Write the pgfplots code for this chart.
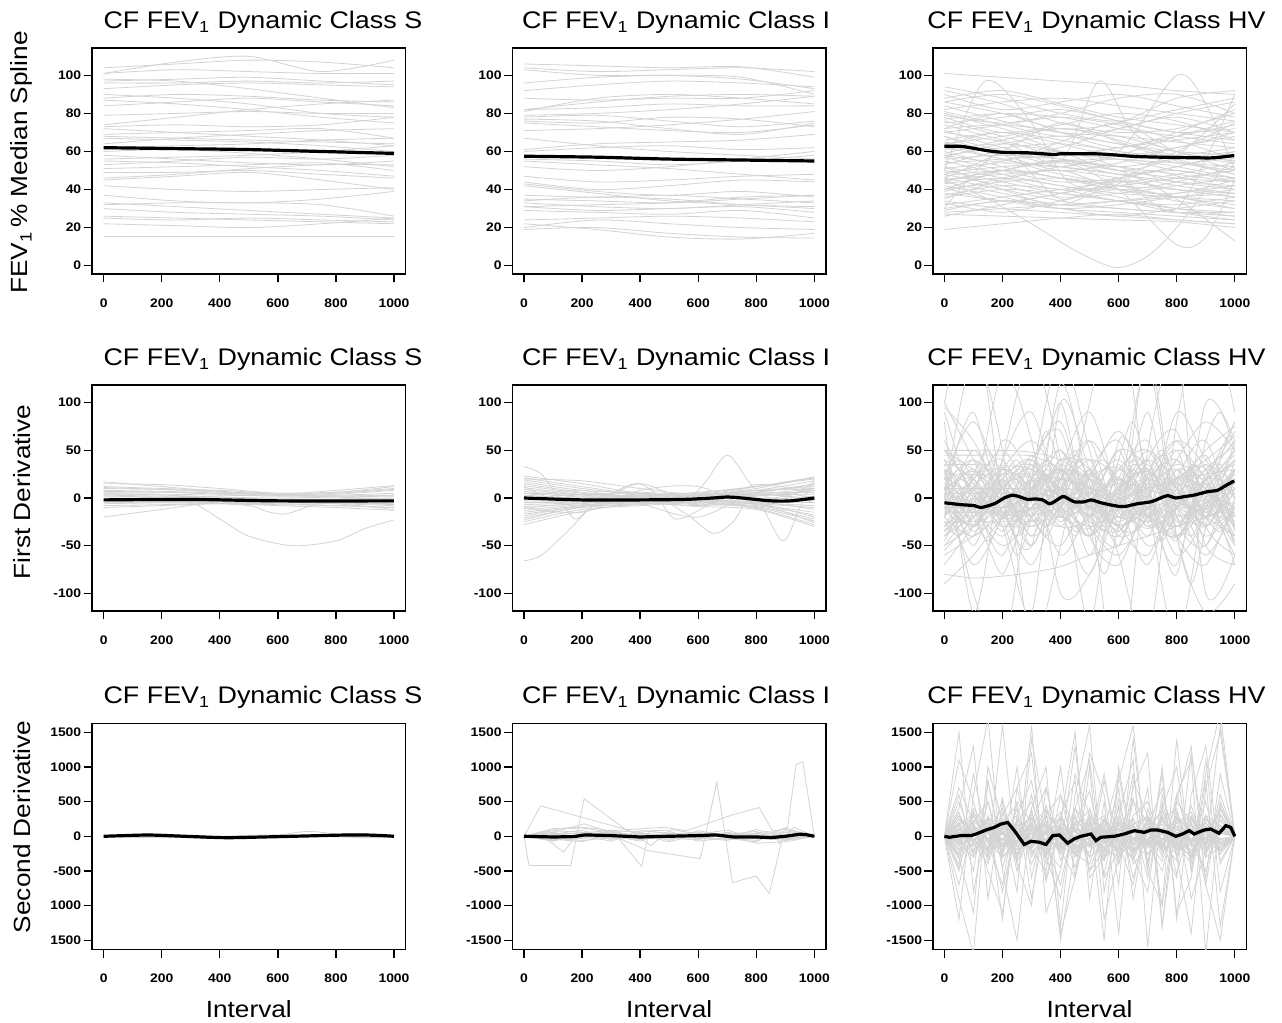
\documentclass[border=0pt]{standalone}
\usepackage{fontspec}
\setmainfont{Liberation Sans}[FakeStretch=1.12]
\usepackage{pgfplots}
\pgfplotsset{compat=1.18}
\usepackage{pgfplotstable}
\definecolor{lg}{RGB}{211,211,211}

\pgfplotsset{
  rp/.style={
    scale only axis, width=156.8pt, height=113pt, anchor=south west,
    xmin=-40, xmax=1040, xtick={0,200,...,1000},
    tick pos=left, tick align=outside, major tick length=4.2pt,
    every tick/.style={black, line width=0.7pt},
    axis line style={black, line width=0.7pt},
    ticklabel style={font=\fontsize{6.2}{7}\selectfont\bfseries},
    xticklabel style={yshift=-4.6pt},
    yticklabel style={inner xsep=1pt},
    scaled ticks=false,
    /pgf/number format/assume math mode=true,
    /pgf/number format/1000 sep={},
    title style={font=\fontsize{12}{14}\selectfont, anchor=base, yshift=3.7pt},
    label style={font=\fontsize{11.7}{14}\selectfont},
    xlabel style={at={(axis description cs:0.5,0)}, anchor=base, yshift=-34.2pt},
  },
  gr/.style={color=lg, line width=0.4pt, mark=none},
  bk/.style={black, line width=1.6pt, mark=none},
}

% one curve per row, columns are interval positions
\pgfplotstableread[header=has colnames]{
0 250 500 750 1000
104 106 108 107 104
101 107 110 102 108
101 103 102 101 101
97 98 99 97 95
96 96 97 96 97
93 95 96 95 94
88 90 89 87 86
87 85 82 78 75
84 86 88 86 84
79 80 81 80 80
74 78 82 85 87
73 74 73 74 78
69 70 71 72 67
68 67 66 65 64
67 66 65 63 60
72 70 68 66 63
56 57 58 60 63
55 54 52 50 47
53 55 57 56 58
51 52 53 54 50
49 49 50 48 46
46 48 51 53 53
42 40 39 40 41
37 34 33 35 39
33 31 29 27 25
32 33 33 32 26
26 25 24 23 22
25 24 25 24 23
22 21 20 22 25
30 28 27 26 24
15.5 15.5 15.5 15.5 15.5
62 63 64 66 67
60 61 59 56 52
64 67 69 71 72
90 88 85 80 78
98 97 93 88 83
45 47 49 45 40
58 56 54 53 55
}\rSa
\pgfplotstableread[header=has colnames]{
0 250 500 750 1000
106 105 104 104.5 99
104 102 103 104 102
103 100 100 98 93
96 99 100 99 90
92 95 97 96 94
88 87 88 88 92
82 86 89 90 89
81 88 90 88 85
79 80 82 85 89
78 79 76 73 76
77 76 72 69 75
76 75 78 77 73
75 73 71 70 74
71 72 74 77 81
67 63 60 58 56
61 64 65 66 69
60 62 63 61 62
56 55 53 55 58
47 44 45 47 48
44 40 42 45 44
43 39 37 39 36
42 38 34 32 30
37 36 37 35 33
35 34 33 35 37
34 36 35 32 31
33 31 30 32 34
31 29 30 31 28
29 28 27 29 25
24 25 26 25 23
20 24 22 20 19
19 20 17 15 14.5
22 19 15 14 17
31 32 33 36 37
52 50 52 56 60
55 53 51 48 45
82 83 85 84 84
}\rIa
\pgfplotstableread[header=has colnames]{
0 200 400 600 800 1000
101 99 97 95 92 90
94 88 80 76 82 88
92 85 75 70 72 80
90 82 86 90 84 78
88 92 85 78 74 70
86 80 72 75 88 92
84 76 70 68 65 62
82 86 88 84 80 76
80 72 64 58 62 70
78 70 74 80 76 66
77 80 78 72 68 64
76 68 60 56 54 52
75 78 82 76 70 72
74 66 58 62 68 74
72 74 70 64 60 58
71 62 56 52 56 60
70 74 78 74 66 56
68 60 52 48 44 42
66 70 66 60 58 62
65 58 50 54 62 68
64 68 72 68 60 50
62 56 48 44 48 54
61 64 60 56 50 46
60 52 46 42 40 38
58 62 64 60 54 50
57 50 44 46 52 58
56 58 56 52 48 44
55 48 42 38 36 34
54 56 58 62 66 70
52 46 40 42 46 50
51 54 52 48 42 38
50 44 38 34 30 28
49 52 54 50 46 44
48 42 36 38 42 46
47 50 46 40 34 30
46 40 34 30 28 26
45 48 50 46 40 36
44 38 32 34 38 42
43 46 42 36 30 26
42 36 30 28 26 24
40 44 46 42 36 32
38 34 30 32 36 40
36 40 38 34 28 24
34 30 28 26 24 22
32 36 40 44 40 36
30 34 32 30 28 28
28 30 32 34 36 38
27 26 25 24 23 20
19 22 25 27 24 22
26 32 38 42 46 50
35 45 50 40 38 45
58 55 65 75 60 55
46 60 75 65 55 48
52 40 32 45 60 75
63 70 60 50 58 85
79 75 80 88 90 80
30 60 35 45 30 90
40 50 55 50 35 13
72 80 70 62 70 82
68 58 62 72 78 70
64 56 52 58 68 76
59 66 72 66 56 48
53 60 56 48 52 60
48 55 60 52 44 40
44 50 46 40 44 52
41 34 38 46 50 44
37 42 40 34 32 36
33 28 34 40 36 30
29 34 30 26 30 34
86 90 84 76 70 66
81 74 68 72 80 86
57 64 68 64 58 54
39 46 52 56 52 46
}\rHa
\pgfplotstableread[header=has colnames]{
0 200 400 600 800 1000
17 12 7 4 8 13
15 14 10 5 6 10
12 10 8 5 6 12
10 9 7 4 3 5
8 7 5 3 2 3
6 6 4 2 4 8
4 4 3 2 2 3
3 2 1 0 1 2
2 1 0 -1 -1 0
0 0 -1 -2 -3 -2
-1 -2 -2 -3 -4 -5
-3 -3 -4 -5 -6 -8
-4 -4 -3 -4 -5 -6
-5 -5 -6 -7 -8 -10
-6 -5 -5 -4 -6 -12
-8 -7 -6 -8 -10 -13
-10 -8 -6 -6 -8 -10
-20 -12 -4 -2 -3 -4
5 3 1 -3 -5 -7
7 6 5 3 1 -1
11 9 6 3 5 9
}\rSb
\pgfplotstableread[header=has colnames]{
0 200 400 600 800 1000
23 15 5 3 10 22
21 12 4 5 12 20
19 10 3 2 8 18
17 8 6 4 6 15
15 6 2 6 12 21
13 5 0 3 8 12
11 4 5 2 4 10
9 3 1 0 6 14
7 2 3 5 2 8
5 1 -1 2 5 6
3 0 2 -1 3 4
1 -1 0 3 -2 2
-1 -2 -3 0 4 -1
-3 -3 1 -2 0 -3
-5 -4 -2 -4 -3 -5
-7 -5 -4 -1 -5 -8
-9 -6 -1 -3 -6 -10
-11 -5 -3 -5 -4 -12
-13 -7 -5 -2 -7 -15
-15 -8 -2 -6 -8 -18
-17 -9 -6 -3 -5 -20
-19 -8 -4 -7 -9 -22
-21 -10 -7 -4 -10 -24
-23 -9 -5 -8 -6 -26
-25 -12 -8 -5 -11 -28
-28 -14 -6 -9 -12 -30
20 18 10 4 12 22
12 -10 15 -8 14 5
-10 -15 8 12 -10 16
2 8 -6 -20 6 0
}\rIb
\pgfplotstableread[header=has colnames]{
0 100 200 300 400 500 600 700 800 900 1000
100 40 -20 10 30 -10 5 20 -10 0 30
95 60 0 -30 20 40 -20 10 30 -20 60
50 30 10 -40 -10 30 60 -20 -40 10 40
45 45 45 44 30 0 -30 -10 20 30 -50
40 20 -10 20 50 0 -30 -60 10 50 75
35 35 34 30 10 -20 10 30 -10 -30 20
30 10 -30 -10 40 20 -40 -20 30 10 -20
25 25 25 25 20 10 -10 -25 -10 20 35
20 -10 -40 0 30 -10 -20 20 40 -10 -40
15 40 10 -30 0 60 10 -50 -20 30 0
10 -20 20 40 -10 -40 0 40 10 -30 20
5 5 5 5 0 -10 -5 10 15 5 -10
0 30 -20 -10 20 10 -30 0 50 20 -30
-5 -30 10 30 -20 -5 20 -10 -40 0 50
-10 -10 -10 -10 -5 5 15 10 -5 -15 -25
-15 20 40 -20 -50 10 40 0 -30 20 10
-20 -40 -10 20 10 -20 -40 10 60 30 -50
-25 -25 -25 -24 -20 -10 0 10 20 25 30
-30 0 30 10 -30 -20 30 50 -10 -60 -10
-35 -10 20 -20 40 30 -20 -10 20 40 65
-40 -20 0 10 -10 -30 -10 20 0 -20 -40
-45 10 50 0 -30 20 70 10 -60 -20 30
-50 -30 -10 0 10 5 -5 -10 0 10 -70
-55 -20 30 60 20 -30 -60 -10 40 80 50
-60 -40 -20 -10 20 0 -20 20 60 0 -20
-70 -30 10 40 0 -40 0 50 10 -40 -10
-80 -84 -82 -78 -72 -60 -50 -40 -30 -20 -10
-90 -60 -20 10 30 20 0 -10 -20 -10 10
20 80 10 -50 30 90 0 -70 20 60 -30
10 -40 60 20 -60 -10 50 30 -40 -70 0
60 0 -60 30 80 -20 -50 40 70 -30 -60
-20 50 -10 -70 10 60 -30 -20 90 40 0
30 -50 40 90 -10 -80 20 60 -30 20 80
0 -70 -20 40 70 -40 -70 0 50 -50 -70
50 50 50 48 40 20 0 -20 -30 -10 10
-5 15 -15 5 -20 25 -5 -25 10 35 15
12 -8 18 -12 8 -18 12 28 -8 -22 5
-12 8 -22 18 2 -8 -28 -12 22 8 -32
8 28 -2 -18 -8 22 32 -2 -18 -8 28
-8 -28 12 22 -18 -32 8 28 2 -28 -15
22 2 -18 8 28 12 -12 -32 -12 18 45
-18 12 32 2 -12 -2 22 -18 -42 -12 -5
40 -10 -50 -20 10 40 20 -30 -10 30 55
-35 -5 25 35 5 -25 -35 5 35 15 -45
0 150 50 -150 -50 100 200 0 -150 0 50
30 -100 -160 20 150 50 -60 -150 80 200 90
100 200 0 -50 120 0 -200 50 150 -100 -60
-40 0 130 60 -100 -80 0 140 -40 -120 -90
80 -120 40 150 40 -130 60 10 -80 100 60
10 20 -30 -120 100 30 -30 150 -20 -50 20
}\rHb
\pgfplotstableread[header=has colnames]{
0 50 100 150 200 250 300 350 400 450 500 550 600 650 700 750 800 850 900 950 1000
20 5 -15 -5 15 25 5 -20 -10 10 30 10 -15 -25 0 20 10 -10 -20 5 25
-10 -25 -5 15 30 10 -15 -30 -5 20 5 -20 -35 -10 15 35 10 -15 -5 20 40
40 15 -10 5 25 0 -25 -5 30 15 -10 -30 0 25 40 5 -20 -40 -10 15 -20
-30 -5 20 35 10 -15 5 30 10 -20 -40 -15 10 30 5 -25 -10 20 35 10 -30
10 30 15 -10 -30 -15 10 25 -5 -35 -20 10 30 15 -15 -35 -5 25 15 -15 10
0 -15 -35 -20 5 30 20 -5 -25 -5 25 40 15 -10 -30 -15 15 30 0 -25 -50
25 40 20 -5 -20 5 35 15 -15 -5 20 0 -25 -10 25 45 20 -10 -30 -5 30
-20 0 25 10 -15 -40 -20 10 35 20 -10 -25 5 35 20 -15 -40 -20 10 40 60
5 -10 10 30 15 -5 -20 -40 -10 25 10 -15 -5 20 -10 -30 0 35 20 -10 -40
-40 -20 0 -15 -35 -10 20 40 25 0 -20 5 35 10 -20 -5 30 10 -20 -35 -5
15 -5 -25 -5 20 40 10 -20 5 30 0 -30 -15 15 35 5 -25 -10 25 35 0
-5 20 40 15 -15 -30 0 25 5 -20 -40 -5 20 0 -25 10 40 15 -15 10 30
30 0 -30 -10 10 -15 -40 -10 20 45 20 -10 10 40 10 -20 0 20 -5 -30 -60
-25 -40 -15 15 5 -20 5 30 50 20 -15 -35 -10 15 -5 -30 -45 -15 20 45 70
50 30 5 -15 0 20 -5 -30 -15 5 25 5 -20 -5 25 0 -30 -10 15 -5 -25
-50 -30 -10 10 -5 -25 10 35 15 -10 5 30 10 -20 -40 -10 20 5 -20 0 20
10 10 10 10 10 10 10 8 5 0 -5 -10 -5 5 15 10 0 -10 -5 5 15
-15 -15 -15 -15 -15 -14 -12 -8 -2 5 10 5 -5 -15 -20 -10 5 15 10 -5 -20
35 10 -20 -45 -20 15 45 20 -15 -40 -10 25 50 15 -25 -45 -10 30 45 10 -35
-35 -10 25 50 20 -20 -50 -20 20 50 15 -25 -50 -15 25 50 15 -30 -50 -10 40
0 60 90 40 -20 -60 -20 50 100 40 -30 -80 -30 40 90 30 -40 -90 -30 40 80
90 40 -10 -50 -80 -40 20 70 30 -20 -60 -20 40 80 20 -50 -70 -10 60 90 50
}\rHbb
\pgfplotstableread[header=has colnames]{
0 100 200 300 400 500 600 700 800 900 1000
0 40 -30 20 -10 30 -20 10 40 -20 0
0 -50 20 -40 30 10 -30 40 -10 30 0
0 80 60 30 -20 -40 20 50 -30 60 0
0 -30 -60 -20 40 20 -10 -50 20 -40 0
0 20 50 -10 -50 30 60 -20 -60 80 0
0 -70 30 60 10 -30 -50 30 70 -50 0
0 100 120 60 -40 10 40 -30 -80 120 0
0 -20 10 -70 60 -60 80 10 -100 -80 0
0 60 -40 90 -30 50 -20 -60 50 100 0
0 -40 -80 40 20 -80 30 90 -40 20 0
0 30 90 -50 80 40 -70 -20 100 -30 0
0 -60 40 10 -70 70 -40 60 -20 -60 0
}\rIc
\pgfplotstableread[header=has colnames]{
0 50 100 150 200 250 300 350 400 450 500 550 600 650 700 750 800 850 900 950 1000
0 150 -80 200 -150 60 300 -200 100 -50 250 -300 80 150 -100 300 -150 50 200 -100 0
0 -200 100 -50 250 -300 50 150 -120 400 -80 100 -250 50 300 -50 150 -300 100 250 0
0 80 300 -100 50 -250 150 -50 300 -200 100 -350 200 -100 50 400 -200 100 -50 150 0
0 -100 -300 150 -50 200 -400 100 50 -150 300 50 -200 250 -100 -50 300 -250 150 -200 0
0 300 50 -200 350 -100 80 -300 200 -50 -150 200 100 -300 150 -100 -250 300 -100 400 0
0 -50 200 -350 100 300 -150 50 -250 150 200 -100 300 -200 -50 250 -100 -300 250 50 0
0 600 -300 100 400 -500 200 700 -200 -600 300 100 -400 500 200 -300 600 -100 -500 300 0
0 -700 200 500 -300 -100 600 -400 300 800 -500 -200 400 -600 100 700 -300 200 -700 500 0
0 200 -500 800 -200 400 -900 300 600 -300 -100 900 -400 200 -600 400 1000 -500 300 -200 0
0 -400 900 -100 -700 500 200 -300 1000 -600 400 -200 700 -900 300 -100 -600 1200 -300 600 0
0 1500 -800 300 -1200 700 1200 -600 200 1500 -900 500 -1400 800 300 -1000 1400 -500 900 1800 0
0 -1200 600 1700 -500 -1500 400 1000 -1300 600 1600 -800 300 1100 -1600 500 -300 -1400 700 1500 0
0 400 1300 -900 500 -400 1600 -1100 -500 900 300 -1500 1000 -200 700 -1300 600 1100 -1700 400 0
0 -900 -1700 800 -300 1000 -600 400 -1500 -200 1200 600 -700 1400 -400 900 -1100 -600 800 -1300 0
0 100 -50 80 -120 50 100 -80 150 -30 60 -100 120 -50 80 -150 100 -60 120 -40 0
0 -80 120 -30 60 -140 40 180 -60 20 -110 90 -30 150 -80 40 -60 180 -120 60 0
0 60 -150 100 30 -60 -180 80 -40 120 50 -90 160 -20 -120 70 140 -80 30 -160 0
0 -30 90 -160 140 20 -70 -40 110 -150 -20 170 -60 -100 60 -30 -140 90 -50 100 0
0 200 150 -100 -200 150 250 -50 -150 100 -300 -100 200 150 -250 -150 200 350 -100 -200 0
0 -250 -100 250 100 -200 -50 300 100 -250 150 300 -150 -300 250 100 -200 -100 300 150 0
0 500 -100 -400 300 700 -200 -500 600 100 -300 800 -100 -700 400 -200 500 200 -600 900 0
0 -500 400 100 -800 200 500 -100 -700 300 -500 100 900 -300 -800 600 -100 -400 1100 -800 0
0 1100 500 -300 1600 -400 -1000 700 -200 1300 -600 -300 800 1600 -500 1000 -1200 600 1300 -400 0
0 -300 -1100 1000 200 -800 1400 200 -1400 -600 1000 -1200 -300 700 1200 -1300 300 -900 -200 1600 0
0 50 120 -60 -30 80 -20 -90 60 130 -40 20 -70 100 -10 -120 50 60 -30 80 0
0 -120 -40 100 -60 -10 120 60 -100 -20 90 -60 30 -40 110 20 -90 -30 100 -80 0
0 350 -250 500 -450 250 -100 450 -350 200 650 -300 -150 550 -400 300 -550 250 -150 450 0
0 -450 300 -200 550 -350 400 -650 150 -450 300 -550 450 -200 -100 -500 350 -150 500 -350 0
0 250 -50 -300 200 450 -300 100 350 -250 -400 250 -200 300 500 -100 -350 450 -250 100 0
0 -150 350 50 -300 -50 350 -200 -450 400 150 -350 550 -400 -150 250 400 -350 150 -50 0
0 120 -200 80 250 -150 40 -260 180 60 -120 220 -80 -220 140 60 -180 260 -40 -150 0
0 -180 60 240 -100 -250 160 20 -200 280 -60 -160 240 80 -260 -40 200 -120 240 60 0
0 250 80 -160 40 200 -220 -60 140 -40 260 20 -240 100 -80 220 -30 -200 80 -260 0
0 -60 -240 100 -40 -180 260 -120 40 -280 120 -60 180 -240 40 -100 280 60 -220 120 0
0 180 -40 -220 160 -80 -20 220 -200 100 40 -180 -40 260 -160 120 -60 -240 200 -80 0
0 -240 160 -60 -200 240 80 -180 60 -120 200 -240 120 -20 180 -220 -80 160 -20 220 0
0 80 160 -260 120 -20 -160 140 260 -180 -20 120 -100 -180 240 -60 140 -100 -200 160 0
0 -100 220 40 -140 -60 200 -240 -80 200 -160 60 220 -120 -40 180 -260 40 120 -220 0
0 300 -120 -60 200 -280 100 160 -140 -260 180 -20 -200 180 280 -240 60 -100 300 -120 0
0 -280 100 180 -240 120 -260 60 240 -20 -240 140 -300 -60 100 -180 200 280 -160 -40 0
0 40 -80 140 -60 100 -120 60 -20 80 -140 40 100 -60 -100 80 -40 120 -80 40 0
0 -60 100 -40 -100 60 140 -100 20 -80 120 -60 -20 140 -60 -120 100 -40 60 -120 0
0 160 320 -80 -300 -100 180 380 60 -260 -60 260 -40 -340 100 360 -120 -280 80 320 0
0 -320 -100 280 60 -360 -20 300 -260 160 380 -180 -300 160 -80 -360 260 100 -300 -160 0
0 700 200 -500 -1100 300 800 -300 -900 400 1100 -600 -200 900 -500 -1000 500 1300 -700 -1500 0
}\rHc

\pgfplotstabletranspose{\tSa}{\rSa}
\pgfplotstabletranspose{\tIa}{\rIa}
\pgfplotstabletranspose{\tHa}{\rHa}
\pgfplotstabletranspose{\tSb}{\rSb}
\pgfplotstabletranspose{\tIb}{\rIb}
\pgfplotstabletranspose{\tHb}{\rHb}
\pgfplotstabletranspose{\tHbb}{\rHbb}
\pgfplotstabletranspose{\tIc}{\rIc}
\pgfplotstabletranspose{\tHc}{\rHc}

\newcommand\lastcol[2]{\pgfplotstablegetcolsof{#1}\edef#2{\the\numexpr\pgfplotsretval-1\relax}}
\lastcol{\tSa}{\nSa}\lastcol{\tIa}{\nIa}\lastcol{\tHa}{\nHa}
\lastcol{\tSb}{\nSb}\lastcol{\tIb}{\nIb}\lastcol{\tHb}{\nHb}\lastcol{\tHbb}{\nHbb}
\lastcol{\tIc}{\nIc}\lastcol{\tHc}{\nHc}

\begin{document}
\begin{tikzpicture}
\useasboundingbox (0,0) rectangle (641pt,511.5pt);

% ---------- row 1: spline ----------
\begin{axis}[rp, at={(46pt,374.5pt)}, ymin=-4.4, ymax=114.4, ytick={0,20,...,100},
  title={CF FEV\textsubscript{1} Dynamic Class S}, title style={at={(0.545,1)}},
  ylabel={FEV\textsubscript{1}\,\% Median Spline},
  ylabel style={at={(axis description cs:-0.2236,0.493)}, anchor=center}]
\pgfplotsinvokeforeach{1,...,\nSa}{\addplot[gr,smooth] table[x index=0,y index=#1]{\tSa};}
\addplot[bk,smooth] coordinates {(0,62)(250,61.5)(500,61)(750,60)(1000,59)};
\end{axis}

\begin{axis}[rp, at={(256.2pt,374.5pt)}, ymin=-4.4, ymax=114.4, ytick={0,20,...,100},
  title={CF FEV\textsubscript{1} Dynamic Class I}, title style={at={(0.522,1)}}]
\pgfplotsinvokeforeach{1,...,\nIa}{\addplot[gr,smooth] table[x index=0,y index=#1]{\tIa};}
\addplot[bk,smooth] coordinates {(0,57.5)(250,57)(500,56)(750,55.5)(1000,55)};
\end{axis}

\begin{axis}[rp, at={(466.4pt,374.5pt)}, ymin=-4.4, ymax=114.4, ytick={0,20,...,100},
  title={CF FEV\textsubscript{1} Dynamic Class HV}, title style={at={(0.522,1)}}]
\pgfplotsinvokeforeach{1,...,\nHa}{\addplot[gr,smooth] table[x index=0,y index=#1]{\tHa};}
\addplot[gr,smooth] coordinates {(0,45)(150,35)(300,22)(450,8)(590,-1)(700,5)(800,20)(900,40)(1000,58)};
\addplot[gr,smooth] coordinates {(0,50)(140,97)(300,75)(420,45)(550,40)(700,50)(850,45)(1000,40)};
\addplot[gr,smooth] coordinates {(0,70)(200,65)(400,55)(533,97)(650,70)(800,60)(1000,55)};
\addplot[gr,smooth] coordinates {(0,40)(200,50)(400,55)(600,60)(800,100)(900,85)(1000,50)};
\addplot[gr,smooth] coordinates {(0,45)(200,50)(400,55)(600,40)(800,11)(900,15)(1000,45)};
\addplot[bk,smooth] coordinates {(0,62.7)(57,62.7)(103,61.6)(149,60.4)(206,59.5)(287,59.3)(378,58.4)(401,58.8)(516,58.8)(585,58.2)(654,57.4)(745,57)(860,56.7)(929,56.7)(998,57.9)};
\end{axis}

% ---------- row 2: first derivative ----------
\begin{axis}[rp, at={(46pt,206pt)}, ymin=-118.6, ymax=118.6, ytick={-100,-50,...,100},
  title={CF FEV\textsubscript{1} Dynamic Class S}, title style={at={(0.545,1)}},
  ylabel={First Derivative},
  ylabel style={at={(axis description cs:-0.2236,0.527)}, anchor=center}]
\pgfplotsinvokeforeach{1,...,\nSb}{\addplot[gr,smooth] table[x index=0,y index=#1]{\tSb};}
\addplot[gr,smooth] coordinates {(0,-2)(300,-4)(500,-8)(560,-14)(620,-17)(680,-12)(750,-6)(1000,-3)};
\addplot[gr,smooth] coordinates {(0,-2)(150,-3)(300,-5)(400,-22)(500,-40)(650,-50)(800,-45)(900,-32)(1000,-23)};
\addplot[bk,smooth] coordinates {(0,-2)(300,-1.5)(600,-3)(1000,-3)};
\end{axis}

\begin{axis}[rp, at={(256.2pt,206pt)}, ymin=-118.6, ymax=118.6, ytick={-100,-50,...,100},
  title={CF FEV\textsubscript{1} Dynamic Class I}, title style={at={(0.522,1)}}]
\pgfplotsinvokeforeach{1,...,\nIb}{\addplot[gr,smooth] table[x index=0,y index=#1]{\tIb};}
\addplot[gr,smooth] coordinates {(0,33)(60,25)(120,0)(175,-22)(230,-10)(300,0)(500,3)(700,0)(1000,8)};
\addplot[gr,smooth] coordinates {(0,-66)(60,-60)(150,-35)(250,-5)(380,15)(450,5)(520,-22)(620,-10)(700,5)(1000,10)};
\addplot[gr,smooth] coordinates {(0,5)(300,3)(550,0)(620,15)(700,45)(780,15)(850,0)(1000,10)};
\addplot[gr,smooth] coordinates {(0,0)(400,5)(550,-15)(650,-37)(720,-25)(800,5)(1000,-5)};
\addplot[gr,smooth] coordinates {(0,-5)(500,0)(700,5)(800,0)(890,-45)(950,-10)(1000,20)};
\addplot[bk,smooth] coordinates {(0,0)(200,-2)(400,-2)(550,-1.5)(650,0)(700,1)(750,0)(850,-3)(920,-3)(1000,0)};
\end{axis}

\begin{axis}[rp, at={(466.4pt,206pt)}, ymin=-118.6, ymax=118.6, ytick={-100,-50,...,100},
  title={CF FEV\textsubscript{1} Dynamic Class HV}, title style={at={(0.522,1)}}]
\pgfplotsinvokeforeach{1,...,\nHb}{\addplot[gr,smooth] table[x index=0,y index=#1]{\tHb};}
\pgfplotsinvokeforeach{1,...,\nHbb}{\addplot[gr,smooth] table[x index=0,y index=#1]{\tHbb};}
\addplot[bk,smooth] coordinates {(0,-5)(57,-7)(103,-8)(126,-10)(172,-6)(206,0)(235,3)(252,2)(287,-1.5)(310,-1)(338,-2)(361,-6)(378,-4)(407,1.5)(424,-0.3)(447,-4)(482,-4)(505,-2)(539,-5)(585,-8)(619,-9)(665,-6)(711,-4)(745,0)(768,2.5)(797,0)(826,1.5)(860,3)(906,6.6)(940,8)(963,12)(998,18)};
\end{axis}

% ---------- row 3: second derivative ----------
\begin{axis}[rp, at={(46pt,36.85pt)}, ymin=-1630, ymax=1630, ytick={-1500,-1000,...,1500},
  yticklabels={1500,1000,-500,0,500,1000,1500},
  title={CF FEV\textsubscript{1} Dynamic Class S}, title style={at={(0.545,1)}},
  ylabel={Second Derivative},
  ylabel style={at={(axis description cs:-0.2236,0.542)}, anchor=center},
  xlabel={Interval}]
\addplot[gr,smooth] coordinates {(0,0)(200,-10)(400,-30)(550,-10)(700,70)(800,30)(900,-20)(1000,0)};
\addplot[gr,smooth] coordinates {(0,0)(150,30)(300,10)(500,-15)(700,5)(880,40)(1000,0)};
\addplot[gr,smooth] coordinates {(0,0)(100,-15)(250,-20)(400,0)(600,20)(850,-15)(950,-20)(1000,0)};
\addplot[bk,smooth] coordinates {(0,0)(75,10)(160,18)(280,0)(420,-20)(550,-10)(700,5)(860,20)(950,12)(1000,0)};
\end{axis}

\begin{axis}[rp, at={(256.2pt,36.85pt)}, ymin=-1630, ymax=1630, ytick={-1500,-1000,...,1500},
  title={CF FEV\textsubscript{1} Dynamic Class I}, title style={at={(0.522,1)}},
  xlabel={Interval}]
\pgfplotsinvokeforeach{1,...,\nIc}{\addplot[gr] table[x index=0,y index=#1]{\tIc};}
\addplot[gr] coordinates {(0,0)(17,-420)(161,-420)(207,540)(356,80)(450,20)(600,-10)(800,10)(1000,0)};
\addplot[gr] coordinates {(0,0)(57,439)(350,100)(420,-40)(500,10)(700,30)(1000,0)};
\addplot[gr] coordinates {(0,0)(70,-20)(100,-110)(136,-229)(170,-40)(220,10)(400,0)(1000,0)};
\addplot[gr] coordinates {(0,0)(100,60)(207,180)(300,60)(420,80)(500,40)(1000,0)};
\addplot[gr] coordinates {(0,0)(200,20)(310,50)(405,-434)(431,80)(520,90)(600,30)(1000,0)};
\addplot[gr] coordinates {(0,0)(350,10)(390,0)(437,-134)(480,10)(1000,0)};
\addplot[gr] coordinates {(0,0)(300,20)(425,-205)(607,-324)(664,782)(718,-668)(799,-572)(845,-825)(891,0)(1000,0)};
\addplot[gr] coordinates {(0,0)(483,130)(560,80)(718,310)(810,415)(880,-100)(930,130)(1000,0)};
\addplot[gr] coordinates {(0,0)(700,20)(850,50)(908,130)(937,1035)(960,1073)(1000,0)};
\addplot[gr] coordinates {(0,0)(100,110)(200,130)(270,100)(330,40)(400,0)(1000,0)};
\addplot[bk] coordinates {(0,0)(100,-10)(170,-5)(210,20)(300,10)(400,-10)(450,-5)(600,10)(660,20)(720,-10)(800,-10)(850,-20)(900,0)(950,30)(970,25)(1000,0)};
\end{axis}

\begin{axis}[rp, at={(466.4pt,36.85pt)}, ymin=-1630, ymax=1630, ytick={-1500,-1000,...,1500},
  title={CF FEV\textsubscript{1} Dynamic Class HV}, title style={at={(0.522,1)}},
  xlabel={Interval}]
\pgfplotsinvokeforeach{1,...,\nHc}{\addplot[gr] table[x index=0,y index=#1]{\tHc};}
\addplot[bk] coordinates {(0,0)(17,-14)(57,10)(92,10)(109,33)(143,90)(172,129)(195,177)(218,200)(241,81)(275,-119)(298,-72)(327,-86)(350,-119)(373,10)(396,19)(424,-100)(447,-38)(470,0)(505,33)(522,-62)(539,-14)(585,0)(619,33)(654,81)(688,57)(711,90)(734,90)(768,57)(797,0)(820,33)(843,81)(860,33)(894,90)(917,105)(946,43)(969,153)(986,129)(1000,0)};
\end{axis}

\end{tikzpicture}
\end{document}
